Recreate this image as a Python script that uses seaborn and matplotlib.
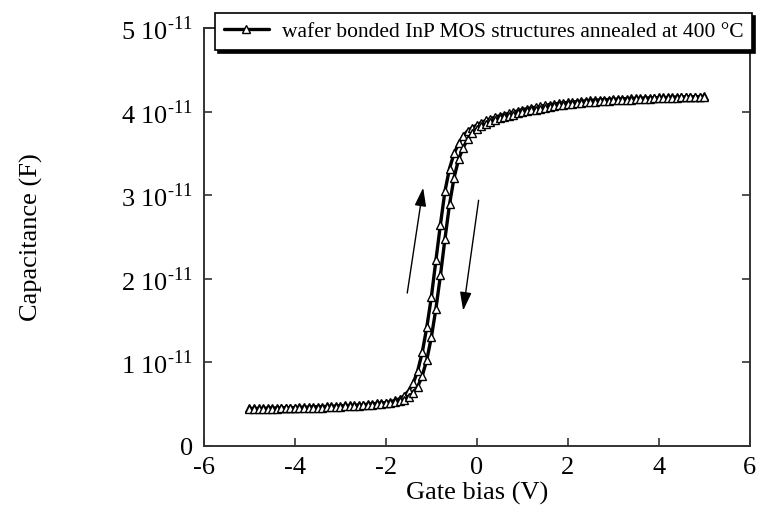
import numpy as np
import matplotlib
matplotlib.use("Agg")
import matplotlib.pyplot as plt
import seaborn as sns
import pandas as pd

# gate bias grid (V)
bias = np.round(np.arange(-5.0, 5.01, 0.1), 1)

# capacitance in units of 1e-11 F, up sweep (left branch)
cap_up = [0.45, 0.45, 0.45, 0.45, 0.455, 0.455, 0.455, 0.46, 0.46, 0.46,
          0.46, 0.465, 0.465, 0.465, 0.47, 0.47, 0.47, 0.475, 0.475, 0.48,
          0.48, 0.485, 0.485, 0.49, 0.49, 0.495, 0.50, 0.505, 0.51, 0.515,
          0.52, 0.53, 0.545, 0.565, 0.60, 0.66, 0.75, 0.90, 1.12, 1.42,
          1.78, 2.22, 2.65, 3.05, 3.32, 3.50, 3.62, 3.71, 3.77, 3.81,
          3.84, 3.87, 3.895, 3.915, 3.935, 3.95, 3.965, 3.98, 3.995, 4.01,
          4.025, 4.035, 4.045, 4.055, 4.065, 4.075, 4.085, 4.09, 4.10, 4.105,
          4.11, 4.115, 4.12, 4.125, 4.13, 4.135, 4.14, 4.14, 4.145, 4.145,
          4.15, 4.15, 4.155, 4.155, 4.16, 4.16, 4.16, 4.165, 4.165, 4.165,
          4.17, 4.17, 4.17, 4.175, 4.175, 4.175, 4.18, 4.18, 4.18, 4.18,
          4.185]

# down sweep (right branch)
cap_down = [0.44, 0.44, 0.44, 0.44, 0.445, 0.445, 0.445, 0.45, 0.45, 0.45,
            0.45, 0.455, 0.455, 0.455, 0.46, 0.46, 0.46, 0.465, 0.465, 0.47,
            0.47, 0.475, 0.475, 0.48, 0.48, 0.485, 0.49, 0.495, 0.50, 0.505,
            0.51, 0.515, 0.525, 0.54, 0.555, 0.585, 0.635, 0.71, 0.84, 1.03,
            1.30, 1.64, 2.04, 2.48, 2.89, 3.21, 3.43, 3.57, 3.67, 3.745,
            3.79, 3.825, 3.855, 3.88, 3.90, 3.92, 3.935, 3.95, 3.965, 3.98,
            3.995, 4.005, 4.015, 4.025, 4.035, 4.045, 4.055, 4.065, 4.075, 4.08,
            4.09, 4.095, 4.10, 4.105, 4.11, 4.115, 4.12, 4.125, 4.13, 4.13,
            4.135, 4.14, 4.14, 4.145, 4.145, 4.15, 4.15, 4.155, 4.155, 4.16,
            4.16, 4.16, 4.165, 4.165, 4.165, 4.17, 4.17, 4.175, 4.175, 4.175,
            4.18]

yticks = [0, 1, 2, 3, 4, 5]
ytick_labels = ["0", r"1 10$^{\text{-11}}$", r"2 10$^{\text{-11}}$",
                r"3 10$^{\text{-11}}$", r"4 10$^{\text{-11}}$", r"5 10$^{\text{-11}}$"]
xticks = [-6, -4, -2, 0, 2, 4, 6]

df_up = pd.DataFrame({"bias": bias, "cap": np.array(cap_up) * 1e-11})
df_down = pd.DataFrame({"bias": bias, "cap": np.array(cap_down) * 1e-11})

sns.set_style("ticks")
plt.rcParams["font.family"] = ["Liberation Serif", "DejaVu Serif"]
plt.rcParams["mathtext.fontset"] = "custom"
plt.rcParams["mathtext.rm"] = "Liberation Serif"
plt.rcParams["axes.unicode_minus"] = False
plt.rcParams["text.color"] = "black"
plt.rcParams["axes.labelcolor"] = "black"

fig = plt.figure(figsize=(7.63, 5.27), dpi=100)
ax = fig.add_axes([0.2674, 0.1537, 0.715, 0.793])

style = dict(color="black", linewidth=2.4, marker="^", markersize=6,
             markerfacecolor="white", markeredgecolor="black", markeredgewidth=1.0)
sns.lineplot(data=df_up, x="bias", y="cap", ax=ax,
             label="wafer bonded InP MOS structures annealed at 400 °C", **style)
sns.lineplot(data=df_down, x="bias", y="cap", ax=ax, legend=False, **style)

# sweep direction arrows
arrow = dict(arrowstyle="-|>,head_length=0.7,head_width=0.22", color="black",
             lw=1.0, mutation_scale=16, shrinkA=0, shrinkB=0)
ax.annotate("", xy=(-1.18, 3.09e-11), xytext=(-1.53, 1.83e-11), arrowprops=arrow)
ax.annotate("", xy=(-0.30, 1.62e-11), xytext=(0.04, 2.94e-11), arrowprops=arrow)

ax.set_xlim(-6, 6)
ax.set_ylim(0, 5e-11)
ax.set_xticks(xticks)
ax.set_xticklabels([str(t) for t in xticks])
ax.set_yticks([t * 1e-11 for t in yticks])
ax.set_yticklabels(ytick_labels)
ax.tick_params(direction="in", length=6, width=1.2, labelsize=19, color="#333333",
               labelcolor="black", top=True, right=True, pad=8)
for sp in ax.spines.values():
    sp.set_color("#333333")
    sp.set_linewidth(1.4)

ax.set_xlabel("Gate bias (V)", fontsize=19, labelpad=2)
ax.set_ylabel("Capacitance (F)", fontsize=19, labelpad=56)

leg = ax.legend(loc="upper right", bbox_to_anchor=(752 / 763, 1 - 13 / 527),
                bbox_transform=fig.transFigure, fontsize=15.5, frameon=True,
                fancybox=False, shadow={"color": "black", "alpha": 1.0},
                handlelength=2.1, borderpad=0.4, handletextpad=0.6,
                borderaxespad=0)
leg.get_frame().set_edgecolor("black")
leg.get_frame().set_linewidth(1.2)
leg.set_zorder(10)

fig.savefig("out.png", dpi=100)
